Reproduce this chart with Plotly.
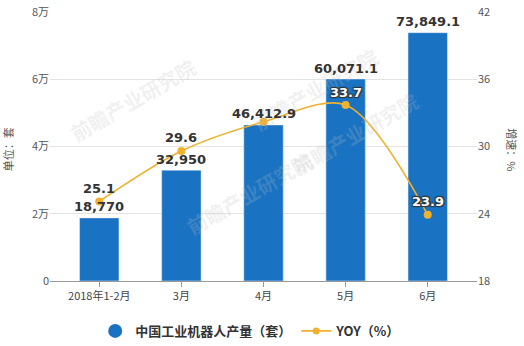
import plotly.graph_objects as go

# Monthly output of industrial robots in China, 2018, and year-on-year growth
categories = ["2018年1-2月", "3月", "4月", "5月", "6月"]
output_sets = [18770, 32950, 46412.9, 60071.1, 73849.1]
yoy_pct = [25.1, 29.6, 32.2, 33.7, 23.9]
yoy_labels = ["25.1", "29.6", "", "33.7", "23.9"]

left_ticks = [0, 20000, 40000, 60000, 80000]
left_tick_text = ["0", "2万", "4万", "6万", "8万"]
right_ticks = [18, 24, 30, 36, 42]

BAR_COLOR = "#1a73c2"
LINE_COLOR = "#f0b12e"
FONT = "Noto Sans CJK SC"
LABEL_FONT = "DejaVu Sans"


def fmt(v):
    s = f"{v:,.1f}"
    return s[:-2] if s.endswith(".0") else s


fig = go.Figure()

# faint watermarks, drawn first so they stay behind the data
for wx, wy in [(0.03, 0.86), (0.62, 0.9), (0.3, 0.14), (0.88, 0.55)]:
    fig.add_annotation(
        x=wx, y=wy, xref="paper", yref="paper", text="前瞻产业研究院", showarrow=False,
        textangle=-30, font=dict(family=FONT, size=20, color="rgba(190,190,190,0.22)", weight="bold"),
    )

fig.add_trace(go.Bar(
    x=categories, y=output_sets,
    marker_color=BAR_COLOR, width=0.48,
    showlegend=False, name="中国工业机器人产量（套）",
))

for c, v in zip(categories, output_sets):
    fig.add_annotation(
        x=c, y=v, text=fmt(v), showarrow=False, yshift=11,
        font=dict(family=LABEL_FONT, size=13, color="#333333", weight="bold"),
    )

fig.add_trace(go.Scatter(
    x=categories, y=yoy_pct, yaxis="y2",
    mode="lines+markers", line=dict(color=LINE_COLOR, width=1.6, shape="spline", smoothing=0.9),
    marker=dict(color=LINE_COLOR, size=8),
    name="YOY（%）", showlegend=False, cliponaxis=False,
))

# dark labels on white; white labels with a dark outline where they sit on a bar
outline = "1px 1px 1px #333, -1px -1px 1px #333, 1px -1px 1px #333, -1px 1px 1px #333"
label_colors = ["#333333", "#333333", "#333333", "#ffffff", "#ffffff"]
label_shadow = ["none", "none", "none", outline, outline]

for c, v, t, col, sh in zip(categories, yoy_pct, yoy_labels, label_colors, label_shadow):
    if not t:
        continue
    fig.add_annotation(
        x=c, y=v, yref="y2", text=t, showarrow=False, yshift=13,
        font=dict(family=LABEL_FONT, size=13, color=col, weight="bold", shadow=sh),
    )

# legend entries
fig.add_trace(go.Scatter(
    x=[None], y=[None], mode="markers", name="中国工业机器人产量（套）",
    marker=dict(color=BAR_COLOR, size=14, symbol="circle"),
))
fig.add_trace(go.Scatter(
    x=[None], y=[None], mode="lines+markers", name="YOY（%）", yaxis="y2",
    line=dict(color=LINE_COLOR, width=1.6), marker=dict(color=LINE_COLOR, size=7),
))

# axis titles
fig.add_annotation(
    x=-0.098, y=0.49, xref="paper", yref="paper", text="单位：套", showarrow=False,
    textangle=-90, xanchor="center", yanchor="middle",
    font=dict(family=FONT, size=11, color="#555555"),
)
fig.add_annotation(
    x=1.082, y=0.49, xref="paper", yref="paper", text="增速：%", showarrow=False,
    textangle=90, xanchor="center", yanchor="middle",
    font=dict(family=FONT, size=11, color="#555555"),
)

fig.update_layout(
    width=524, height=346,
    margin=dict(l=50, r=47, t=12, b=65, autoexpand=False),
    paper_bgcolor="white", plot_bgcolor="white",
    font=dict(family=FONT, size=11, color="#555555"),
    xaxis=dict(
        type="category", range=[-0.6, 4.6],
        showline=True, linecolor="#999999", linewidth=1,
        ticks="outside", ticklen=5, tickcolor="#999999",
        tickfont=dict(family=FONT, size=11, color="#444444"),
        showgrid=False,
    ),
    yaxis=dict(
        range=[0, 80000], tickvals=left_ticks, ticktext=left_tick_text,
        showgrid=True, gridcolor="#e3e3e3", zeroline=False,
        tickfont=dict(family=FONT, size=11, color="#555555"),
    ),
    yaxis2=dict(
        overlaying="y", side="right", range=[18, 42], tickvals=right_ticks,
        showgrid=False, zeroline=False,
        tickfont=dict(family=FONT, size=11, color="#555555"),
    ),
    legend=dict(
        orientation="h", x=0.47, xanchor="center", y=-0.13, yanchor="top",
        font=dict(family=FONT, size=13, color="#333333", weight="bold"),
        itemwidth=30,
    ),
)

fig.write_html("out.html")
